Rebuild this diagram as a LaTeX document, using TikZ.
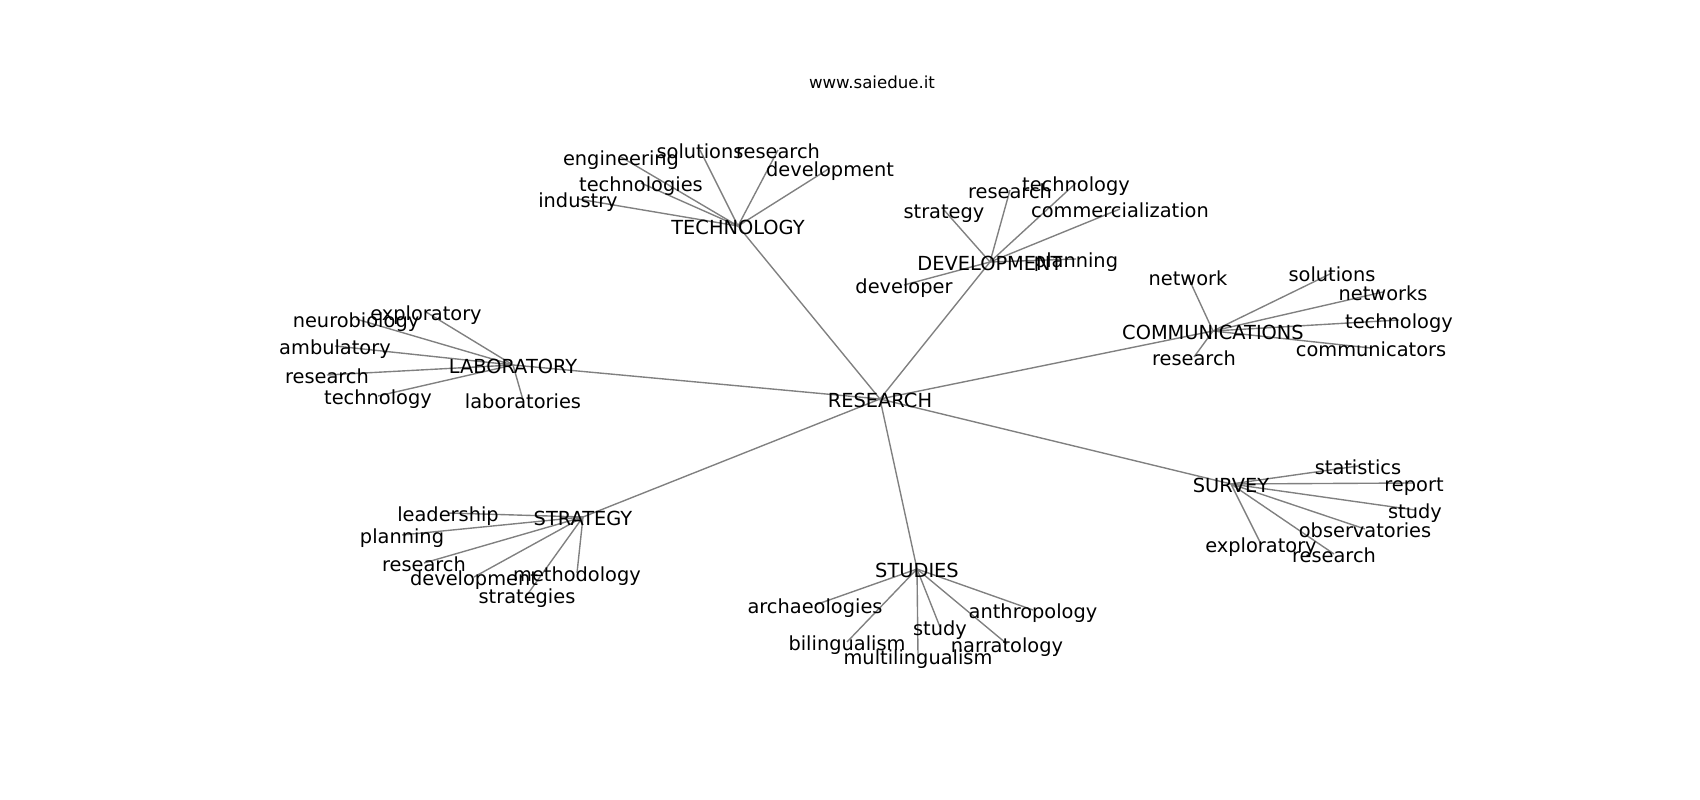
\documentclass[tikz,border=0pt]{standalone}
\usepackage{fontspec}
\setmainfont{DejaVu Sans}
\usetikzlibrary{backgrounds}
\tikzset{
  edge/.style={draw=gray, line width=1pt},
  lbl/.style={inner sep=0pt, text height=12.8pt, text depth=1.2pt, font=\fontsize{14}{16}\selectfont},
}
\begin{document}
\begin{tikzpicture}[x=0.01in, y=-0.01in, line cap=round]
  \useasboundingbox (0,0) rectangle (1700,800);
  % hub points
  \coordinate (RES) at (880,399);
  \coordinate (TEC) at (738,226);
  \coordinate (DEV) at (990,262);
  \coordinate (COM) at (1213,331);
  \coordinate (LAB) at (513,365);
  \coordinate (SUR) at (1231,484);
  \coordinate (STR) at (583,517);
  \coordinate (STU) at (917,569);
  % hubs to the centre
  \foreach \h in {TEC,DEV,COM,LAB,SUR,STR,STU}{\draw[edge] (RES) -- (\h);}
  % leaves of each hub
  \foreach \h/\x/\y/\t [count=\i] in {
    TEC/621/157/engineering, TEC/700/150/solutions, TEC/778/150/research,
    TEC/830/168/development, TEC/641/183/technologies, TEC/578/199/industry,
    DEV/1010/190/research, DEV/1076/183/technology, DEV/944/210/strategy,
    DEV/1120/209/commercialization, DEV/1076/259/planning, DEV/904/285/developer,
    COM/1188/277/network, COM/1332/273/solutions, COM/1383/292/networks,
    COM/1399/320/technology, COM/1371/348/communicators, COM/1194/357/research,
    LAB/426/312/exploratory, LAB/356/319/neurobiology, LAB/335/346/ambulatory,
    LAB/327/375/research, LAB/378/396/technology, LAB/523/400/laboratories,
    SUR/1358/466/statistics, SUR/1414/483/report, SUR/1415/510/study,
    SUR/1365/529/observatories, SUR/1261/544/exploratory, SUR/1334/554/research,
    STR/448/513/leadership, STR/402/535/planning, STR/424/563/research,
    STR/474/577/development, STR/577/573/methodology, STR/527/595/strategies,
    STU/815/605/archaeologies, STU/1033/610/anthropology, STU/940/627/study,
    STU/847/642/bilingualism, STU/1007/644/narratology, STU/918/656/multilingualism%
  }{
    \node[lbl] (lf\i) at (\x,\y) {\t};
    \begin{scope}[on background layer]\draw[edge] (\h) -- (lf\i.center);\end{scope}
  }
  % hub labels
  \node[lbl] (RESl) at (RES) {RESEARCH};
  \node[lbl] (TECl) at (TEC) {TECHNOLOGY};
  \node[lbl] (DEVl) at (DEV) {DEVELOPMENT};
  \node[lbl] (COMl) at (COM) {COMMUNICATIONS};
  \node[lbl] (LABl) at (LAB) {LABORATORY};
  \node[lbl] (SURl) at (SUR) {SURVEY};
  \node[lbl] (STRl) at (STR) {STRATEGY};
  \node[lbl] (STUl) at (STU) {STUDIES};
  % title
  \node[lbl, text height=10.6pt, text depth=1.4pt, font=\fontsize{12}{14}\selectfont] (title) at (872,82) {www.saiedue.it};
\end{tikzpicture}
\end{document}
